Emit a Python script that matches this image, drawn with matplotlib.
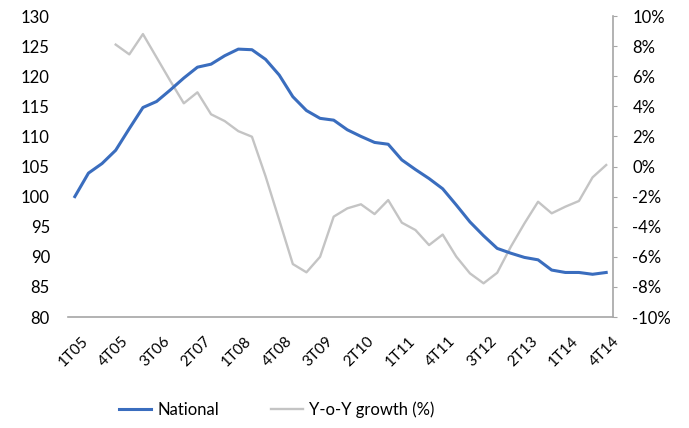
import numpy as np
import matplotlib
matplotlib.use('Agg')
import matplotlib.pyplot as plt
import matplotlib.transforms as mtransforms
from matplotlib.ticker import FuncFormatter

plt.rcParams['font.family'] = ['Lato', 'DejaVu Sans']

# trimestres 1T05 .. 4T14
trimestres = [f'{q}T{a:02d}' for a in range(5, 15) for q in range(1, 5)]

national = [100.0, 103.9, 105.5, 107.7, 111.3, 114.8, 115.8, 117.7, 119.7, 121.5,
            122.0, 123.4, 124.5, 124.4, 122.8, 120.2, 116.6, 114.3, 113.0, 112.7,
            111.1, 110.0, 109.0, 108.7, 106.1, 104.5, 103.0, 101.3, 98.6, 95.8,
            93.5, 91.4, 90.6, 89.9, 89.5, 87.8, 87.4, 87.4, 87.1, 87.4]

# crescimento homologo (%), primeiros valores sem dados
yoy = [np.nan, np.nan, np.nan, 8.1, 7.45, 8.8, 7.25, 5.7, 4.2, 4.93,
       3.47, 3.02, 2.35, 1.98, -0.65, -3.55, -6.48, -7.03, -6.0, -3.33,
       -2.78, -2.51, -3.16, -2.23, -3.73, -4.22, -5.22, -4.52, -5.99, -7.1,
       -7.76, -7.06, -5.33, -3.78, -2.34, -3.11, -2.67, -2.29, -0.72, 0.1]

x = np.arange(len(trimestres))
yoy_frac = [v / 100 for v in yoy]

fig = plt.figure(figsize=(6.89, 4.28), dpi=100)
ax = fig.add_axes([0.0987, 0.2593, 0.791, 0.7033])
ax2 = ax.twinx()

l1, = ax.plot(x, national, color='#3A6DBE', lw=2.2, label='National')
l2, = ax2.plot(x, yoy_frac, color='#C4C4C4', lw=1.7, label='Y-o-Y growth (%)')
ax.set_zorder(ax2.get_zorder() + 1)
ax.patch.set_visible(False)

ax.set_xlim(-0.5, len(x) - 0.5)
ax.set_ylim(80, 130)
ax.set_yticks(range(80, 131, 5))
ax2.set_ylim(-0.10, 0.10)
ax2.set_yticks(np.arange(-10, 11, 2) / 100)
ax2.yaxis.set_major_formatter(FuncFormatter(lambda v, p: f'{v*100:.0f}%'))

ax.set_xticks(x[::3])
ax.set_xticklabels(trimestres[::3], rotation=45, ha='right', va='top',
                   rotation_mode='anchor', fontsize=11)
ax.tick_params(axis='x', length=0, pad=12)
ax.tick_params(axis='y', length=0, labelsize=12, pad=13)
ax2.tick_params(axis='y', length=3, color='#A6A6A6', labelsize=12, pad=11)

# deslocar as etiquetas do eixo x um pouco para a direita
desloc = mtransforms.ScaledTranslation(6 / 100, 0, fig.dpi_scale_trans)
for lab in ax.get_xticklabels():
    lab.set_transform(lab.get_transform() + desloc)

for s in ['top', 'left', 'right']:
    ax.spines[s].set_visible(False)
for s in ['top', 'left', 'bottom']:
    ax2.spines[s].set_visible(False)
ax.spines['bottom'].set_color('#A6A6A6')
ax.spines['bottom'].set_linewidth(1.2)
ax2.spines['right'].set_color('#A6A6A6')
ax2.spines['right'].set_linewidth(1.2)

fig.legend(handles=[l1, l2], loc='center', bbox_to_anchor=(0.402, 0.042), ncol=2,
           frameon=False, fontsize=12, handlelength=1.9, handletextpad=0.4,
           columnspacing=3.1)

fig.savefig('out.png', dpi=100)
